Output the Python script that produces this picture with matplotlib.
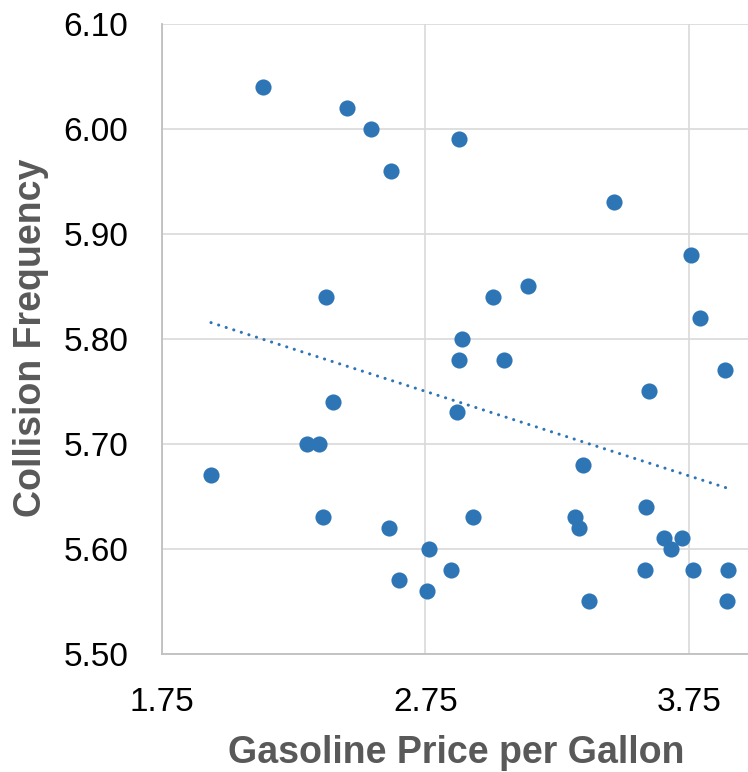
import numpy as np
import matplotlib
matplotlib.use("Agg")
import matplotlib.pyplot as plt
from matplotlib.ticker import FormatStrFormatter, FixedLocator

plt.rcParams['font.family'] = ['Liberation Sans', 'DejaVu Sans']

gas_price = [2.134, 2.452, 2.543, 2.877, 2.618, 3.466, 3.756, 2.375, 3.006, 3.141,
             3.793, 2.891, 2.877, 3.050, 3.885, 3.597, 2.398, 2.869, 2.300, 2.345,
             1.937, 3.347, 2.361, 2.930, 3.316, 3.332, 2.611, 3.588, 3.657, 3.725,
             3.681, 2.763, 2.846, 3.582, 3.764, 3.900, 2.650, 2.755, 3.370, 3.893]
collisions = [6.04, 6.02, 6.00, 5.99, 5.96, 5.93, 5.88, 5.84, 5.84, 5.85,
              5.82, 5.80, 5.78, 5.78, 5.77, 5.75, 5.74, 5.73, 5.70, 5.70,
              5.67, 5.68, 5.63, 5.63, 5.63, 5.62, 5.62, 5.64, 5.61, 5.61,
              5.60, 5.60, 5.58, 5.58, 5.58, 5.58, 5.57, 5.56, 5.55, 5.55]
x_ticks = [1.75, 2.75, 3.75]
y_ticks = [5.50, 5.60, 5.70, 5.80, 5.90, 6.00, 6.10]

W, H = 748, 772
fig = plt.figure(figsize=(W / 100, H / 100), dpi=100)
ax = fig.add_axes([161.7 / W, (H - 654) / H, (W - 161.7) / W, (654 - 24) / H])

blue = '#2E75B6'
x = np.array(gas_price)
y = np.array(collisions)
ax.scatter(x, y, s=135, color=blue, zorder=3, linewidths=0)

m, b = np.polyfit(x, y, 1)
xs = np.array([x.min(), x.max()])
ax.plot(xs, m * xs + b, color=blue, lw=2.2, linestyle=(0, (0.05, 2.55)),
        dash_capstyle='round', zorder=2)

ax.set_xlim(1.75, 3.974)
ax.set_ylim(5.50, 6.10)
ax.xaxis.set_major_locator(FixedLocator(x_ticks))
ax.yaxis.set_major_locator(FixedLocator(y_ticks))
ax.yaxis.set_major_formatter(FormatStrFormatter('%.2f'))
ax.xaxis.set_major_formatter(FormatStrFormatter('%.2f'))
ax.tick_params(axis='both', length=0, labelsize=24, colors='black')
ax.tick_params(axis='y', pad=24)
ax.tick_params(axis='x', pad=24)

ax.grid(True, color='#d9d9d9', lw=1.2, zorder=0)
ax.set_axisbelow(True)
for s in ['top', 'right']:
    ax.spines[s].set_visible(False)
for s in ['left', 'bottom']:
    ax.spines[s].set_color('#bfbfbf')
    ax.spines[s].set_linewidth(1.3)

fig.text(456 / W, 9 / H, 'Gasoline Price per Gallon', ha='center', va='baseline',
         fontsize=27, fontweight='bold', color='#595959')
fig.text(31.5 / W, (H - 338) / H, 'Collision Frequency', ha='center', va='center',
         rotation=90, fontsize=27, fontweight='bold', color='#595959')

fig.savefig('out.png', dpi=100)
